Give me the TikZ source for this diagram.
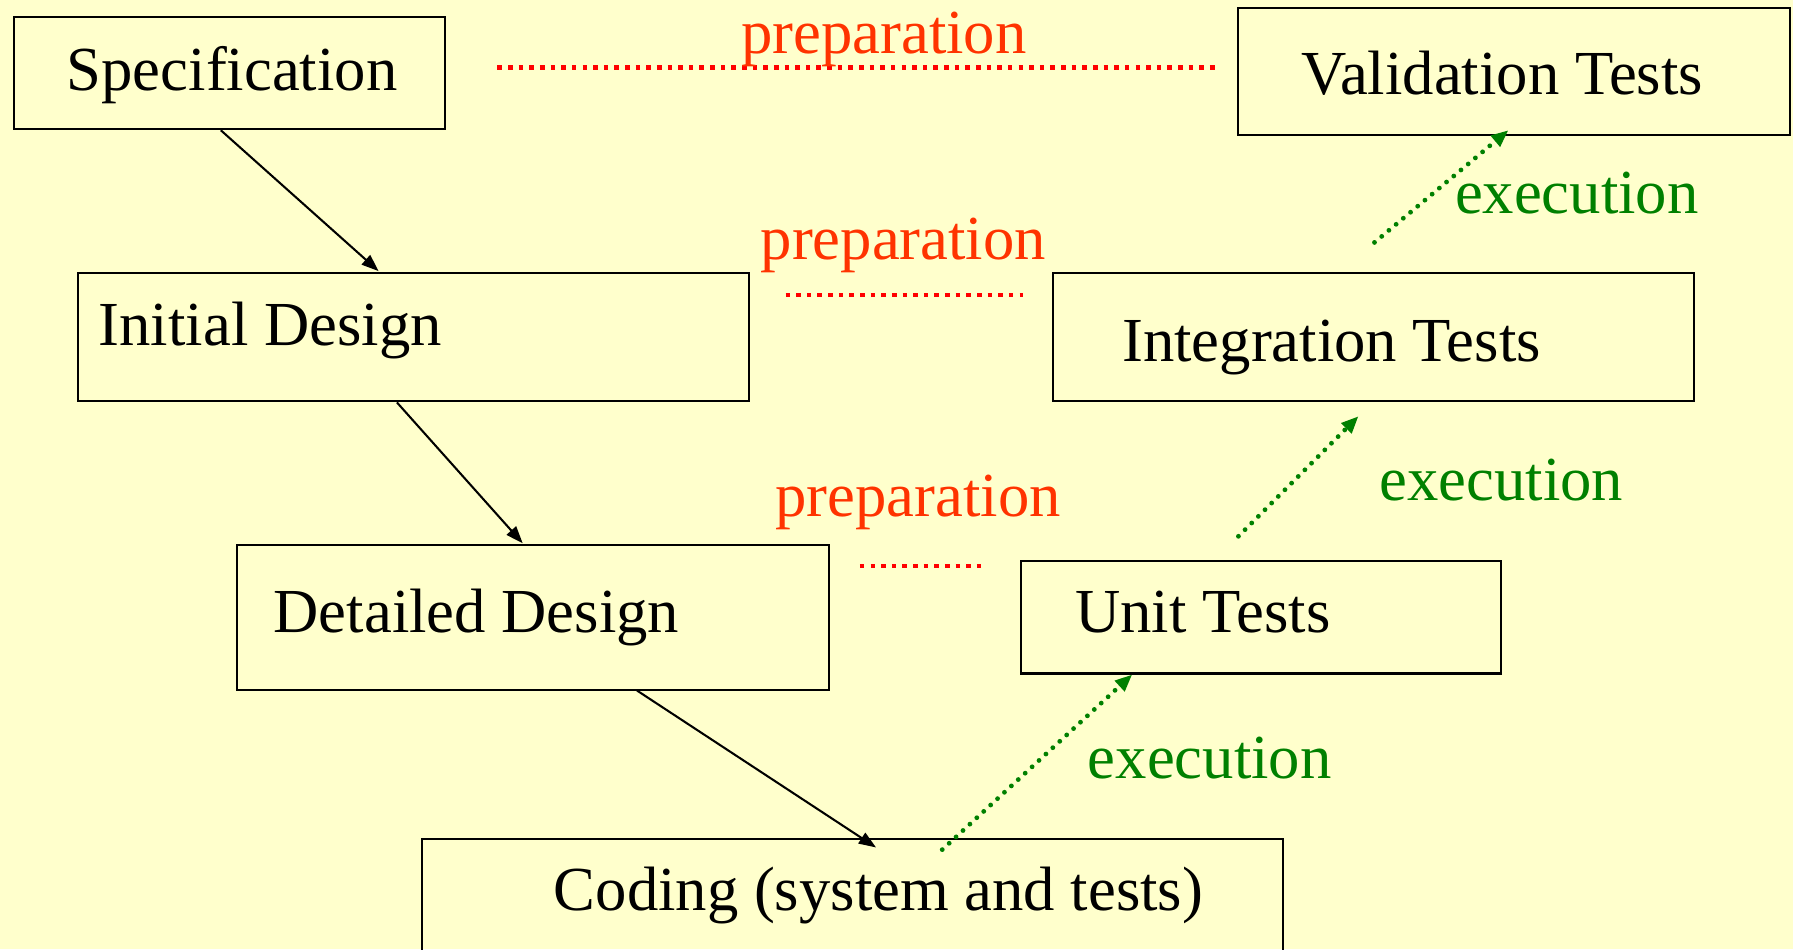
\documentclass[tikz,border=0pt]{standalone}
\usepackage{fontspec}
\setmainfont{Liberation Serif}
\usetikzlibrary{arrows.meta,fit,calc}
\definecolor{paper}{HTML}{FFFFCC}
\definecolor{preptext}{HTML}{FF3300}
\definecolor{prepline}{HTML}{FF0000}
\definecolor{execgreen}{HTML}{008000}

\begin{document}
\begin{tikzpicture}[x=0.5pt,y=-0.5pt,
  stage/.style={draw=black, line width=0.9pt, rectangle, inner sep=0pt},
  stagetext/.style={anchor=base west, inner sep=0pt, font=\fontsize{27.4}{30}\selectfont},
  preplabel/.style={anchor=base, inner sep=0pt, text=preptext, font=\fontsize{27.4}{30}\selectfont},
  execlabel/.style={anchor=base west, inner sep=0pt, text=execgreen, font=\fontsize{27.4}{30}\selectfont},
  flow/.style={draw=black, line width=0.9pt, -{Triangle[length=7.5pt,width=5.5pt]}},
  prepline/.style={draw=prepline, line width=2.1pt, dash pattern=on 2pt off 2.65pt},
  execflow/.style={draw=execgreen, line width=2.1pt, line cap=round,
    dash pattern=on 0.01pt off 4.1pt, -{Triangle[length=7.5pt,width=6pt]}}]

% page and background
\fill[paper] (0,0) rectangle (1568,830);
\useasboundingbox (0,0) rectangle (1568,830);
\clip (0,0) rectangle (1568,830);

% corner points of the stage boxes
\coordinate (specA) at (12,15);     \coordinate (specB) at (389,113);
\coordinate (validA) at (1083,7);   \coordinate (validB) at (1565,118);
\coordinate (initA) at (68,239);    \coordinate (initB) at (655,351);
\coordinate (integA) at (921,239);  \coordinate (integB) at (1481,351);
\coordinate (detA) at (207,477);    \coordinate (detB) at (725,603);
\coordinate (unitA) at (893,491);   \coordinate (unitB) at (1313,589);
\coordinate (codeA) at (369,734);   \coordinate (codeB) at (1122,860);

% stage boxes
\node[stage, fit=(specA)(specB)] (spec) {};
\node[stage, fit=(validA)(validB)] (valid) {};
\node[stage, fit=(initA)(initB)] (init) {};
\node[stage, fit=(integA)(integB)] (integ) {};
\node[stage, fit=(detA)(detB)] (detail) {};
\node[stage, fit=(unitA)(unitB)] (unit) {};
\node[stage, fit=(codeA)(codeB)] (coding) {};

% stage captions
\node[stagetext] (specT) at (58,79) {Specification};
\node[stagetext] (validT) at (1138,83) {Validation Tests};
\node[stagetext] (initT) at (86,302) {Initial Design};
\node[stagetext] (integT) at (981,316) {Integration Tests};
\node[stagetext] (detT) at (239,553) {Detailed Design};
\node[stagetext] (unitT) at (940,553) {Unit Tests};
\node[stagetext] (codeT) at (484,796) {Coding (system and tests)};

% descending branch
\draw[flow] ($(spec.south west)+(182,0)$) -- ($(init.north west)+(264,-1)$);
\draw[flow] ($(init.south west)+(280,0)$) -- ($(detail.north west)+(251,-1)$);
\draw[flow] ($(detail.south west)+(351,0)$) -- ($(coding.north west)+(398,8)$);

% preparation links
\coordinate (p1a) at (435,59);  \coordinate (p1b) at (1065,59);
\coordinate (p2a) at (687,258); \coordinate (p2b) at (895,258);
\coordinate (p3a) at (752,495); \coordinate (p3b) at (858,495);
\draw[prepline] (p1a) -- (p1b);
\draw[prepline] (p2a) -- (p2b);
\draw[prepline] (p3a) -- (p3b);
\node[preplabel] (prep1) at (773,47) {preparation};
\node[preplabel] (prep2) at (790,227) {preparation};
\node[preplabel] (prep3) at (803,452) {preparation};

% ascending branch
\coordinate (e1a) at (824,743);
\coordinate (e2a) at (1083,469); \coordinate (e2b) at (1188,364);
\coordinate (e3a) at (1202,212);
\draw[execflow] (e1a) -- ($(unit.south west)+(98,0)$);
\draw[execflow] (e2a) -- (e2b);
\draw[execflow] (e3a) -- ($(valid.south west)+(237,-5)$);
\node[execlabel] (exec1) at (1272,187) {execution};
\node[execlabel] (exec2) at (1206,438) {execution};
\node[execlabel] (exec3) at (951,681) {execution};
\end{tikzpicture}
\end{document}
